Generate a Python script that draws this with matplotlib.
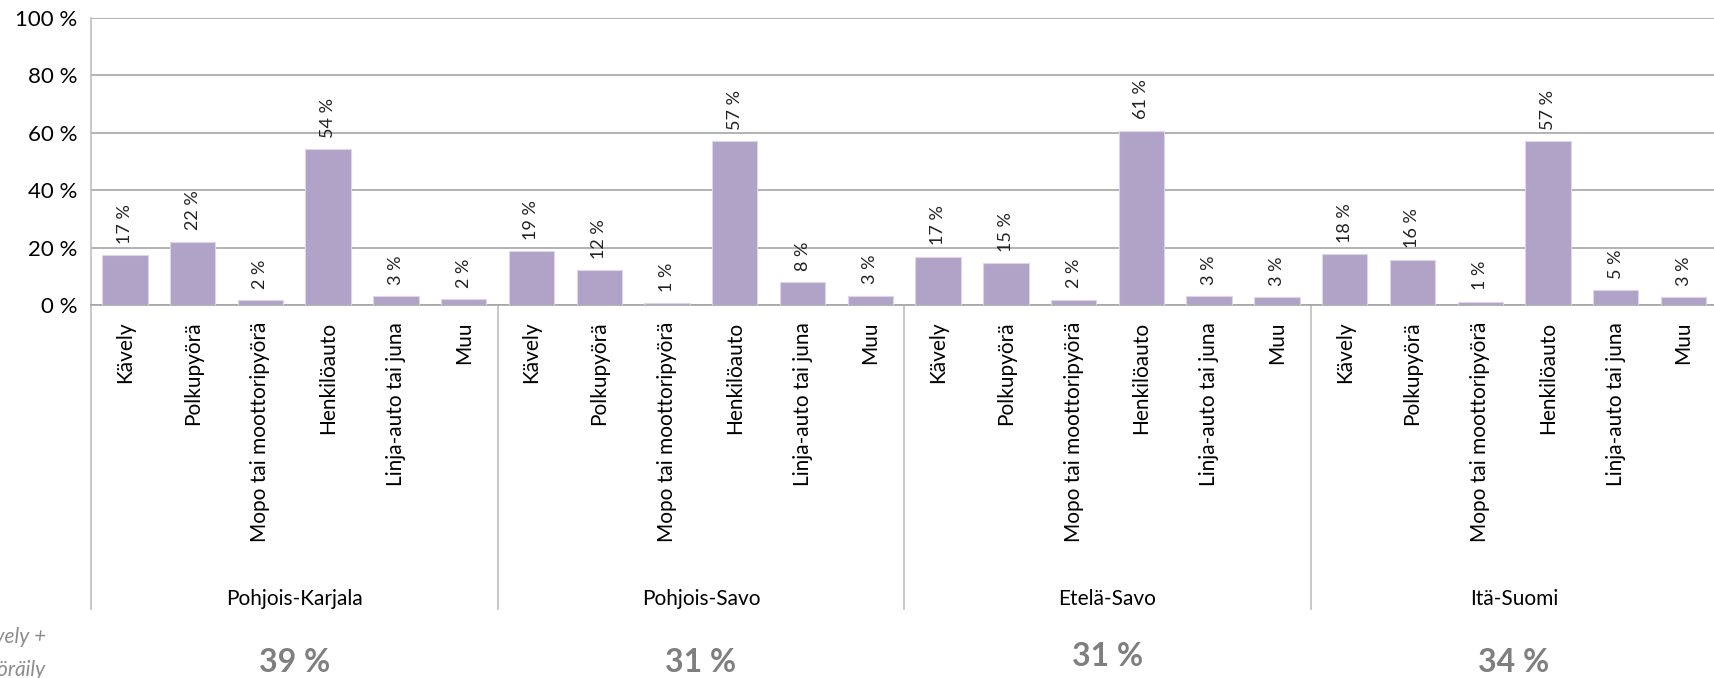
import numpy as np
import matplotlib.pyplot as plt
from matplotlib.lines import Line2D
from matplotlib.transforms import blended_transform_factory

plt.rcParams['font.family'] = ['Lato', 'DejaVu Sans']

regions = ['Pohjois-Karjala', 'Pohjois-Savo', 'Etelä-Savo', 'Itä-Suomi']
modes = ['Kävely', 'Polkupyörä', 'Mopo tai moottoripyörä', 'Henkilöauto',
         'Linja-auto tai juna', 'Muu']
pk = [17.4, 22.1, 1.7, 54.2, 3.1, 2.0]
ps = [18.8, 12.1, 0.6, 57.0, 8.0, 3.3]
es = [16.8, 14.6, 1.8, 60.8, 3.1, 2.7]
isu = [17.6, 15.7, 1.1, 57.0, 5.1, 2.7]
walk_bike = ['39 %', '31 %', '31 %', '34 %']

values = pk + ps + es + isu
labels = modes * len(regions)
x = np.arange(len(values))

fig = plt.figure(figsize=(17.14, 6.78), dpi=100)
ax = fig.add_axes([91 / 1714, 1 - 305 / 678, 1 - 91 / 1714 + 0.002, 287 / 678])

ax.bar(x, values, width=0.67, color='#b1a2c7', edgecolor='#ddd5ea', linewidth=0.8, zorder=3)
for xi, v in zip(x, values):
    ax.text(xi, v + 4, f'{round(v):.0f} %', rotation=90, ha='center', va='bottom',
            fontsize=13, color='#222222')

ax.set_xlim(-0.5, len(values) - 0.5)
ax.set_ylim(0, 100)
ax.set_yticks(range(0, 101, 20))
ax.set_yticklabels([f'{t} %' for t in range(0, 101, 20)], fontsize=16)
ax.set_xticks(x)
ax.set_xticklabels(labels, rotation=90, fontsize=15, va='top')
ax.tick_params(axis='x', length=0, pad=12)
ax.tick_params(axis='y', length=0, pad=10)
ax.grid(axis='y', color='#a6a6a6', linewidth=1.2, zorder=0)
for s in ['top', 'right']:
    ax.spines[s].set_visible(False)
ax.spines['left'].set_color('#bfbfbf')
ax.spines['left'].set_linewidth(1.2)
ax.spines['bottom'].set_color('#a6a6a6')
ax.spines['bottom'].set_linewidth(1.2)

trans = blended_transform_factory(ax.transData, ax.transAxes)
for k in range(len(regions) + 1):
    xs = k * len(modes) - 0.5
    ax.add_line(Line2D([xs, xs], [0, -1.059], transform=trans, color='#bfbfbf',
                       linewidth=1.2, clip_on=False))
for k, name in enumerate(regions):
    xc = k * len(modes) + (len(modes) - 1) / 2
    ax.text(xc, -1.024, name, transform=trans, ha='center', va='center', fontsize=15)
    dy = -1.225 if k == 2 else -1.244
    ax.text(xc, dy, walk_bike[k], transform=trans, ha='center', va='center',
            fontsize=23, fontweight='bold', color='#7f7f7f')

fig.text(46 / 1714, 1 - 637 / 678, 'Kävely +', ha='right', va='center', fontsize=15,
         style='italic', color='#8c8c8c')
fig.text(46 / 1714, 1 - 670 / 678, 'pyöräily', ha='right', va='center', fontsize=15,
         style='italic', color='#8c8c8c')

fig.savefig('out.png', dpi=100)
